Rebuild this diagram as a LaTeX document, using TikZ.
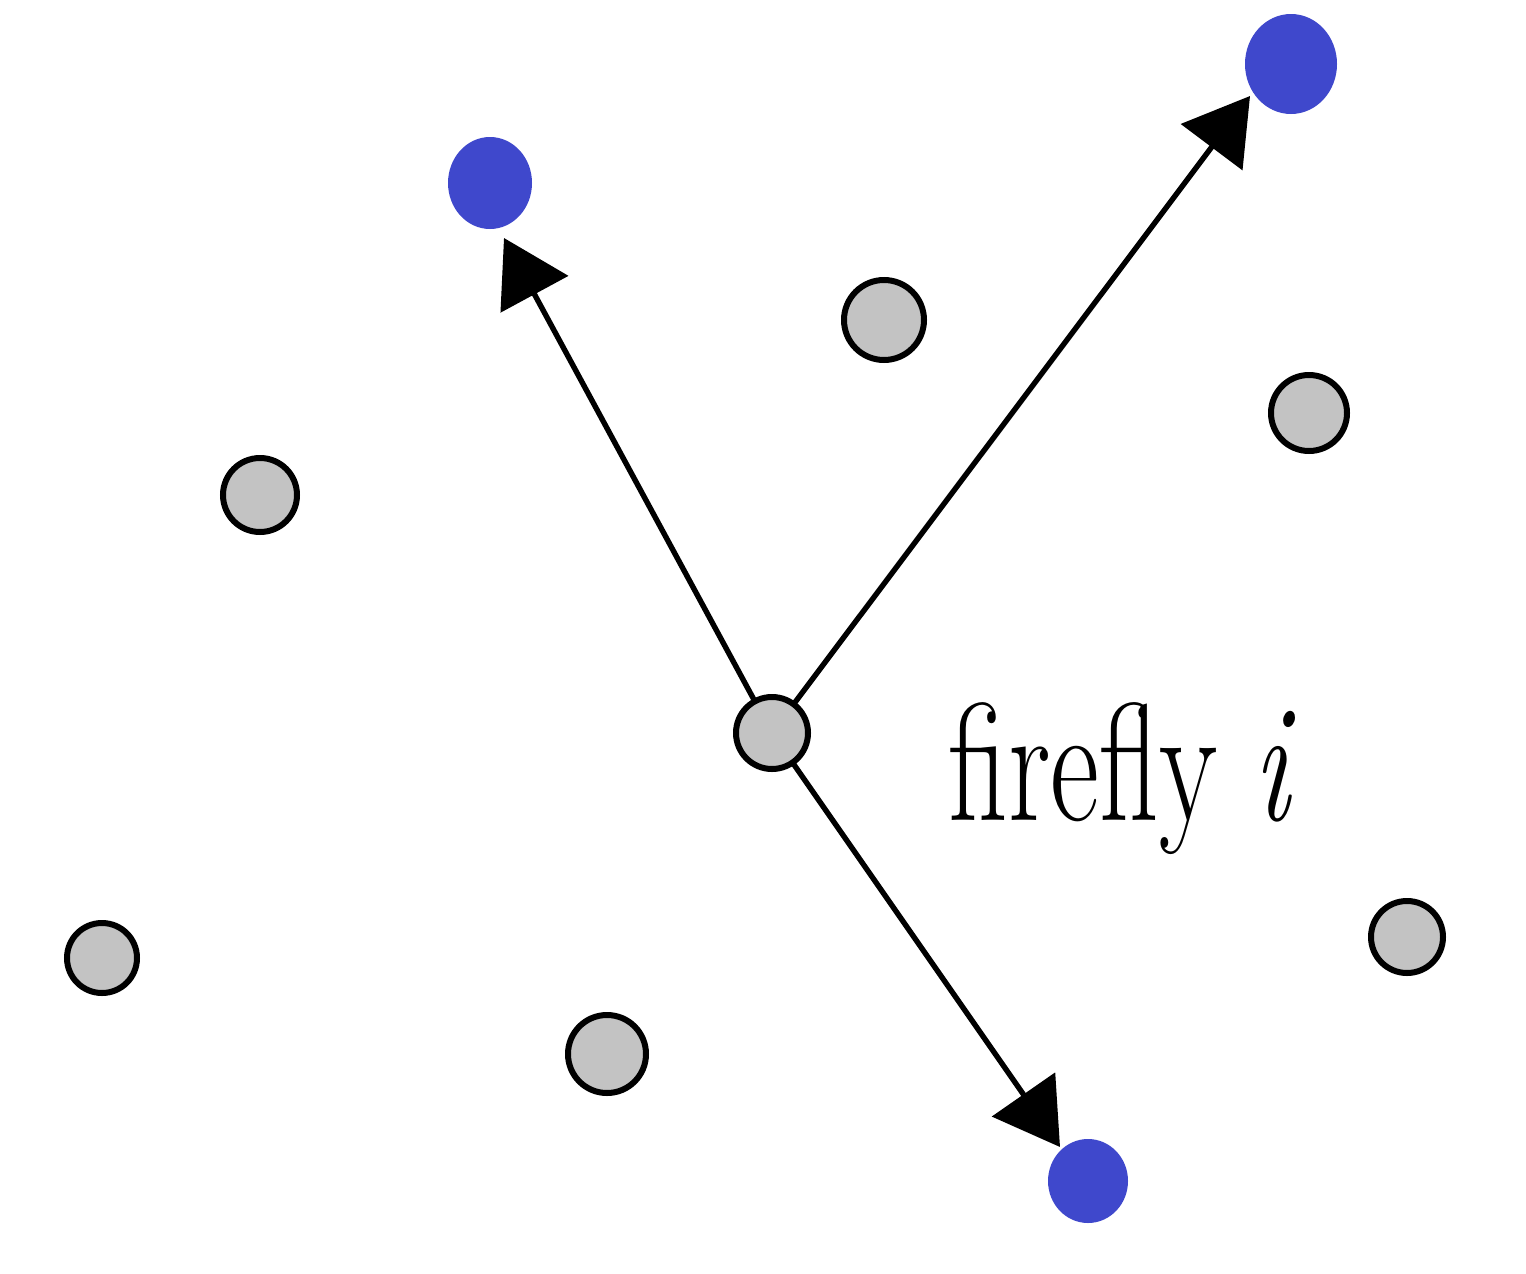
\documentclass[tikz,border=0pt]{standalone}
\usetikzlibrary{arrows.meta,shapes.geometric}
\definecolor{fblue}{HTML}{3F48CC}
\definecolor{fgray}{HTML}{C3C3C3}
\begin{document}
\begin{tikzpicture}[x=0.5pt,y=-0.5pt,
  gdot/.style={circle,draw=black,line width=3pt,fill=fgray,minimum size=38pt,inner sep=0pt,outer sep=0pt},
  bdot/.style={ellipse,fill=fblue,draw=none,inner sep=0pt,outer sep=0pt},
  arr/.style={line width=2.7pt,-{Triangle[length=32pt,width=38pt]}}]
\useasboundingbox (0,0) rectangle (1526,1274);
\fill[white] (0,0) rectangle (1526,1274);
% blue fireflies
\node[bdot,minimum width=42pt,minimum height=46pt] (b1) at (490,183) {};
\node[bdot,minimum width=46pt,minimum height=50pt] (b2) at (1291,64) {};
\node[bdot,minimum width=40pt,minimum height=42pt] (b3) at (1088,1181) {};
% gray fireflies
\node[gdot,minimum size=40pt] (g1) at (884,320) {};
\node[gdot,minimum size=38pt] (g2) at (1309,413) {};
\node[gdot,minimum size=37pt] (g3) at (260,495) {};
\node[gdot,minimum size=36pt] (c) at (772,733) {};
\node[gdot,minimum size=35pt] (g4) at (102,958) {};
\node[gdot,minimum size=39pt] (g5) at (607,1054) {};
\node[gdot,minimum size=36pt] (g6) at (1407,937) {};
% arrow tips (just short of the blue fireflies)
\coordinate (t1) at (504,238);
\coordinate (t2) at (1250,96);
\coordinate (t3) at (1060,1147);
% arrows
\draw[arr] (c) -- (t1);
\draw[arr] (c) -- (t2);
\draw[arr] (c) -- (t3);
% label
\node[anchor=base west,inner sep=0pt,yscale=1.4] (lab) at (948,820) {\fontsize{60}{64}\selectfont firefly \textit{i}};
\end{tikzpicture}
\end{document}
